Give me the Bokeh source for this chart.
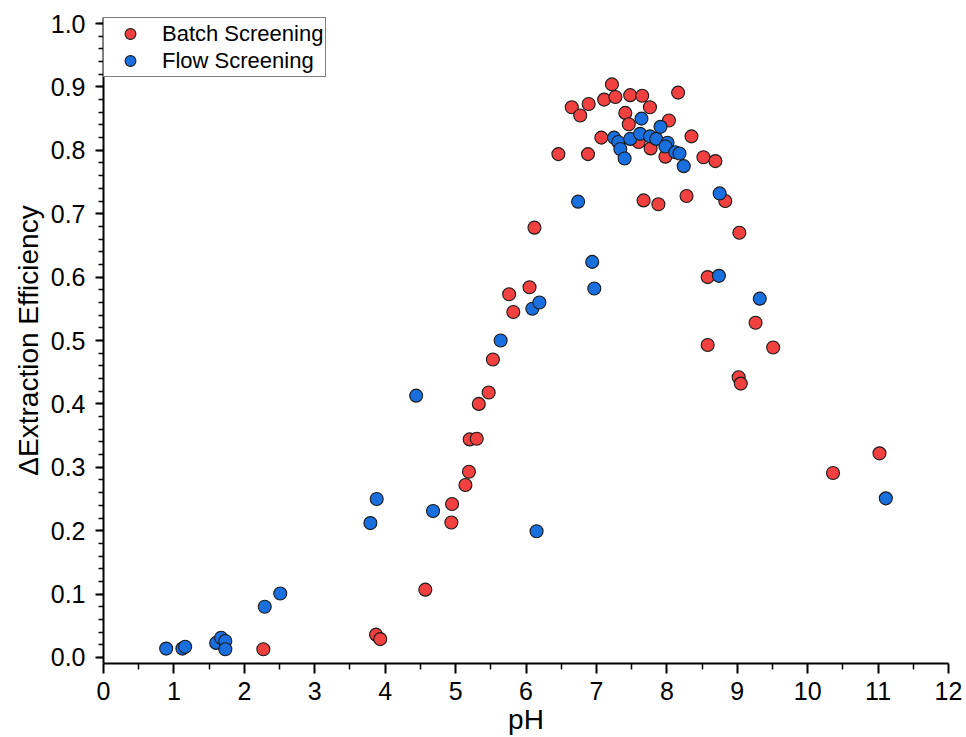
from bokeh.plotting import figure
from bokeh.models import (Range1d, FixedTicker, PrintfTickFormatter, Legend,
                          LegendItem, ColumnDataSource)
from bokeh.embed import file_html
from bokeh.resources import INLINE

# ---- data ----
batch_ph = [2.27, 3.87, 3.93, 4.57, 4.94, 4.95, 5.14, 5.19, 5.20, 5.30,
            5.33, 5.47, 5.53, 5.76, 5.82, 6.05, 6.12, 6.46, 6.65, 6.77,
            6.89, 6.88, 7.07, 7.11, 7.22, 7.27, 7.41, 7.46, 7.48, 7.60,
            7.65, 7.67, 7.76, 7.77, 7.88, 7.98, 8.03, 8.16, 8.28, 8.35,
            8.52, 8.69, 8.58, 8.58, 8.83, 9.03, 9.02, 9.05, 9.26, 9.51,
            10.36, 11.02]
batch_eff = [0.013, 0.036, 0.029, 0.107, 0.213, 0.242, 0.272, 0.293, 0.344, 0.345,
             0.400, 0.418, 0.470, 0.573, 0.545, 0.584, 0.678, 0.794, 0.868, 0.855,
             0.873, 0.794, 0.820, 0.880, 0.904, 0.884, 0.859, 0.841, 0.887, 0.813,
             0.886, 0.721, 0.868, 0.803, 0.715, 0.790, 0.847, 0.891, 0.728, 0.822,
             0.789, 0.783, 0.600, 0.493, 0.720, 0.670, 0.442, 0.432, 0.528, 0.489,
             0.291, 0.322]

flow_ph = [0.89, 1.12, 1.16, 1.60, 1.67, 1.73, 1.73, 2.29, 2.51, 3.79,
           3.88, 4.44, 4.68, 5.64, 6.09, 6.19, 6.15, 6.74, 6.94, 6.97,
           7.25, 7.31, 7.34, 7.40, 7.48, 7.62, 7.64, 7.76, 7.85, 7.91,
           8.01, 7.98, 8.12, 8.18, 8.24, 8.74, 8.75, 9.32, 11.11]
flow_eff = [0.014, 0.014, 0.017, 0.023, 0.031, 0.026, 0.013, 0.080, 0.101, 0.212,
            0.250, 0.413, 0.231, 0.500, 0.550, 0.560, 0.199, 0.719, 0.624, 0.582,
            0.820, 0.813, 0.802, 0.787, 0.818, 0.826, 0.850, 0.822, 0.818, 0.837,
            0.812, 0.806, 0.797, 0.795, 0.775, 0.602, 0.732, 0.566, 0.251]

x_ticks = [0, 1, 2, 3, 4, 5, 6, 7, 8, 9, 10, 11, 12]
x_minor = [0.5, 1.5, 2.5, 3.5, 4.5, 5.5, 6.5, 7.5, 8.5, 9.5, 10.5, 11.5]
y_ticks = [0.0, 0.1, 0.2, 0.3, 0.4, 0.5, 0.6, 0.7, 0.8, 0.9, 1.0]
y_minor = [round(0.02 * i, 2) for i in range(51)]

series_names = ["Batch Screening", "Flow Screening"]
RED = "#F14040"
BLUE = "#1A6FDF"
FONT = "Liberation Sans"

p = figure(width=966, height=737, output_backend="svg", toolbar_location=None,
           x_range=Range1d(0, 12), y_range=Range1d(-0.0095, 1.0095),
           min_border_left=103, min_border_right=18, min_border_top=17,
           min_border_bottom=74)

p.background_fill_color = "white"
p.border_fill_color = "white"
p.outline_line_color = None
p.xgrid.visible = False
p.ygrid.visible = False

src_b = ColumnDataSource(dict(x=batch_ph, y=batch_eff))
src_f = ColumnDataSource(dict(x=flow_ph, y=flow_eff))
rb = p.scatter("x", "y", source=src_b, size=13, fill_color=RED,
               line_color="#1a1a1a", line_width=1.1)
rf = p.scatter("x", "y", source=src_f, size=13, fill_color=BLUE,
               line_color="#1a1a1a", line_width=1.1)

p.xaxis.ticker = FixedTicker(ticks=x_ticks, minor_ticks=x_minor)
p.yaxis.ticker = FixedTicker(ticks=y_ticks, minor_ticks=y_minor)
p.yaxis.formatter = PrintfTickFormatter(format="%.1f")

for ax in (p.xaxis[0], p.yaxis[0]):
    ax.axis_line_width = 2
    ax.axis_line_color = "black"
    ax.major_tick_line_width = 2
    ax.minor_tick_line_width = 1.5
    ax.major_tick_line_color = "black"
    ax.minor_tick_line_color = "black"
    ax.major_tick_in = 0
    ax.minor_tick_in = 0
    ax.major_label_text_font = FONT
    ax.major_label_text_font_size = "25px"
    ax.major_label_text_color = "black"
    ax.axis_label_text_font = FONT
    ax.axis_label_text_font_style = "normal"
    ax.axis_label_text_color = "black"
    ax.axis_label_text_font_size = "28px"

p.xaxis.major_tick_out = 10
p.xaxis.minor_tick_out = 6
p.yaxis.major_tick_out = 8
p.yaxis.minor_tick_out = 5
p.xaxis.major_label_standoff = 8
p.yaxis.major_label_standoff = 10
p.xaxis.axis_label = "pH"
p.yaxis.axis_label = "\u0394Extraction Efficiency"
p.xaxis.axis_label_standoff = 1
p.yaxis.axis_label_standoff = 4

legend = Legend(items=[LegendItem(label=series_names[0], renderers=[rb]),
                       LegendItem(label=series_names[1], renderers=[rf])],
                location="top_left")
legend.margin = 0
legend.padding = 2
legend.spacing = 0
legend.glyph_width = 48
legend.glyph_height = 27
legend.label_height = 27
legend.label_standoff = 8
legend.label_text_font = FONT
legend.label_text_font_size = "22px"
legend.label_text_color = "black"
legend.border_line_color = "black"
legend.border_line_width = 1
legend.background_fill_color = "white"
legend.background_fill_alpha = 1.0
p.add_layout(legend)

open("out.html", "w").write(file_html(p, INLINE))
